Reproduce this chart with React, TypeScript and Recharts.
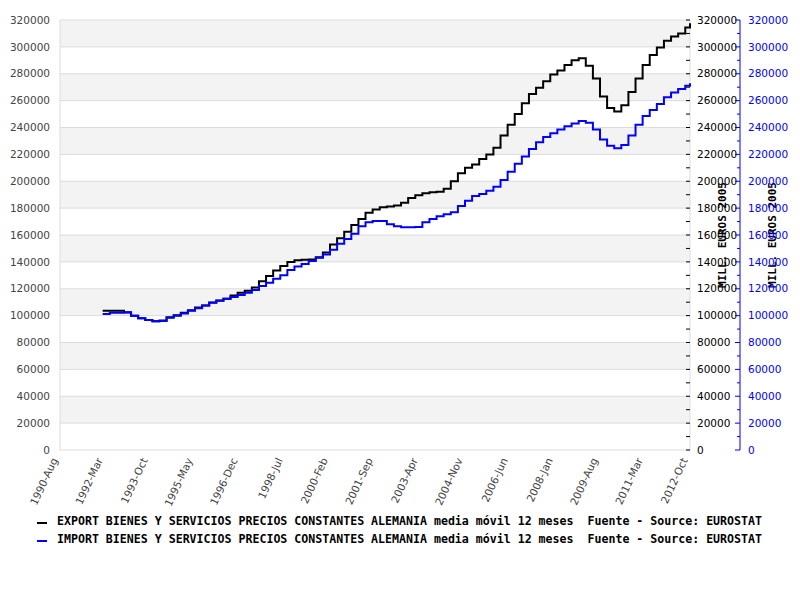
import { LineChart, Line, XAxis, YAxis, CartesianGrid, Legend } from 'recharts'

// month index 0 = 1990-Aug, one label every 19 months
const xTickLabels = [
  '1990-Aug', '1992-Mar', '1993-Oct', '1995-May', '1996-Dec', '1998-Jul', '2000-Feb', '2001-Sep',
  '2003-Apr', '2004-Nov', '2006-Jun', '2008-Jan', '2009-Aug', '2011-Mar', '2012-Oct',
]
const xTicks = xTickLabels.map((_, i) => i * 19)

const yTicks = [
  0, 20000, 40000, 60000, 80000, 100000, 120000, 140000, 160000,
  180000, 200000, 220000, 240000, 260000, 280000, 300000, 320000,
]
const rightTicks = yTicks.flatMap((v, i) => (i === 0 ? [v] : [v - 10000, v]))

// quarterly steps (millions of euros of 2005), first step at month 18, last point at month 266
const exportVals = [
  103700, 103700, 103700, 102500, 100000, 98000, 96700, 95800, 96300, 98800,
  100200, 102200, 104000, 106000, 107500, 109800, 111200, 112500, 115000, 117000,
  118500, 121000, 125500, 129500, 133500, 137000, 140000, 141200, 141500, 141700,
  143500, 147000, 153000, 157500, 162500, 167500, 172000, 176500, 179000, 180600,
  181200, 182000, 184000, 187500, 189500, 191000, 191800, 192200, 194500, 200000,
  206000, 210000, 212500, 216500, 220000, 225000, 234000, 242000, 250000, 258000,
  265000, 269500, 274500, 279500, 282500, 286500, 290000, 291500, 286000, 276500,
  263000, 254500, 252000, 256500, 266500, 276500, 286500, 294000, 299500, 304500,
  307800, 310000, 314500, 317500,
]
const importVals = [
  101200, 102200, 102200, 102300, 100000, 98000, 96700, 95800, 96000, 98500,
  100000, 101500, 103700, 105500, 107500, 109600, 111000, 112500, 113800, 115300,
  117000, 119000, 122000, 124500, 127500, 130000, 134000, 136500, 138500, 140600,
  143000, 145500, 149000, 153500, 157000, 161000, 166500, 169500, 170400, 170400,
  168000, 166500, 165700, 165700, 166000, 169500, 172000, 174000, 175500, 177000,
  181500, 185500, 189000, 190500, 193000, 196000, 201000, 207000, 213000, 218500,
  224000, 229000, 233000, 235700, 238500, 241000, 243000, 244800, 243500, 238500,
  231000, 226500, 224500, 227000, 234000, 242000, 248500, 253000, 257500, 262500,
  266000, 268700, 271000, 272900,
]

const firstMonth = 18
const lastMonth = 266
const data = exportVals.map((v, i) => ({
  m: i === exportVals.length - 1 ? lastMonth : firstMonth + i * 3,
  exp: v,
  imp: importVals[i],
}))

const EXPORT_NAME = 'EXPORT BIENES Y SERVICIOS PRECIOS CONSTANTES ALEMANIA media móvil 12 meses  Fuente - Source: EUROSTAT'
const IMPORT_NAME = 'IMPORT BIENES Y SERVICIOS PRECIOS CONSTANTES ALEMANIA media móvil 12 meses  Fuente - Source: EUROSTAT'
const AXIS_TITLE = 'MILL. EUROS 2005'

const XTick = ({ x, y, payload }: any) => (
  <text
    x={x - 2}
    y={y}
    transform={`rotate(-65, ${x - 2}, ${y})`}
    textAnchor="end"
    fontSize={10.5}
    fontFamily="DejaVu Sans"
    fill="#444"
  >
    {xTickLabels[xTicks.indexOf(payload.value)]}
  </text>
)

const makeRightTick = (color: string, major: number, minor: number, gap: number) => (props: any) => {
  const { x, y, payload } = props
  const isMajor = payload.value % 20000 === 0
  return (
    <g>
      <line x1={x - (isMajor ? major : minor)} x2={x} y1={y} y2={y} stroke={color} />
      {isMajor && (
        <text x={x + gap} y={y} dy="0.35em" fontSize={10.5} fontFamily="DejaVu Sans" fill={color}>
          {payload.value}
        </text>
      )}
    </g>
  )
}

const axisTitle = (dx: number) => ({ viewBox }: any) => {
  const cx = viewBox.x + dx
  const cy = viewBox.y + viewBox.height / 2
  return (
    <text
      x={cx}
      y={cy}
      transform={`rotate(-90, ${cx}, ${cy})`}
      textAnchor="middle"
      dy="0.35em"
      fontSize={11}
      fontWeight="bold"
      fontFamily="DejaVu Sans Mono"
      fill="#000"
    >
      {AXIS_TITLE}
    </text>
  )
}

const legendContent = () => (
  <div style={{ fontFamily: 'DejaVu Sans Mono', fontWeight: 'bold', fontSize: 11.6, color: '#000' }}>
    {[
      { name: EXPORT_NAME, color: '#000000' },
      { name: IMPORT_NAME, color: '#0000ff' },
    ].map(s => (
      <div key={s.name} style={{ display: 'flex', alignItems: 'center', height: 18, whiteSpace: 'pre' }}>
        <span style={{ display: 'inline-block', width: 10, height: 2, background: s.color, marginRight: 10, marginTop: 4 }} />
        <span>{s.name}</span>
      </div>
    ))}
  </div>
)

export default function App() {
  return (
    <div style={{ position: 'absolute', left: 0, top: 0, width: 800, height: 600, background: '#fff' }}>
      <LineChart width={800} height={600} data={data} margin={{ top: 20, right: 0, left: 0, bottom: 0 }}>
        <CartesianGrid
          yAxisId="left"
          stroke="#dcdcdc"
          horizontalFill={['#f3f3f3', '#ffffff']}
          verticalCoordinatesGenerator={({ offset }: any) => [offset.left, offset.left + offset.width]}
        />
        <XAxis
          dataKey="m"
          type="number"
          domain={[0, 266]}
          ticks={xTicks}
          interval={0}
          height={150}
          axisLine={false}
          tickLine={false}
          tickSize={0}
          tickMargin={10}
          tick={<XTick />}
        />
        <YAxis
          yAxisId="left"
          orientation="left"
          width={60}
          domain={[0, 320000]}
          allowDataOverflow
          ticks={yTicks}
          interval={0}
          axisLine={false}
          tickLine={false}
          tickSize={0}
          tickMargin={10}
          tick={{ fontSize: 10.5, fontFamily: 'DejaVu Sans', fill: '#444' }}
        />
        <YAxis
          yAxisId="r1"
          orientation="right"
          width={50}
          type="number"
          domain={[0, 320000]}
          allowDataOverflow
          ticks={rightTicks}
          interval={0}
          axisLine={false}
          tickLine={false}
          tickSize={0}
          tickMargin={0}
          tick={makeRightTick('#000', 4, 4, 7)}
          label={axisTitle(32)}
        />
        <YAxis
          yAxisId="r2"
          orientation="right"
          width={60}
          type="number"
          domain={[0, 320000]}
          allowDataOverflow
          ticks={rightTicks}
          interval={0}
          axisLine={{ stroke: '#0000ff' }}
          tickLine={false}
          tickSize={0}
          tickMargin={0}
          tick={makeRightTick('#0000ff', 5, 3, 8)}
          label={axisTitle(32)}
        />
        <Legend
          layout="horizontal"
          align="center"
          verticalAlign="middle"
          content={legendContent}
          wrapperStyle={{ left: 37, top: 512, width: 'auto', height: 'auto' }}
        />
        <Line
          yAxisId="r1"
          type="stepAfter"
          dataKey="exp"
          stroke="#000000"
          strokeWidth={2}
          dot={false}
          isAnimationActive={false}
        />
        <Line
          yAxisId="r2"
          type="stepAfter"
          dataKey="imp"
          stroke="#0000ff"
          strokeWidth={2}
          dot={false}
          isAnimationActive={false}
        />
      </LineChart>
    </div>
  )
}
